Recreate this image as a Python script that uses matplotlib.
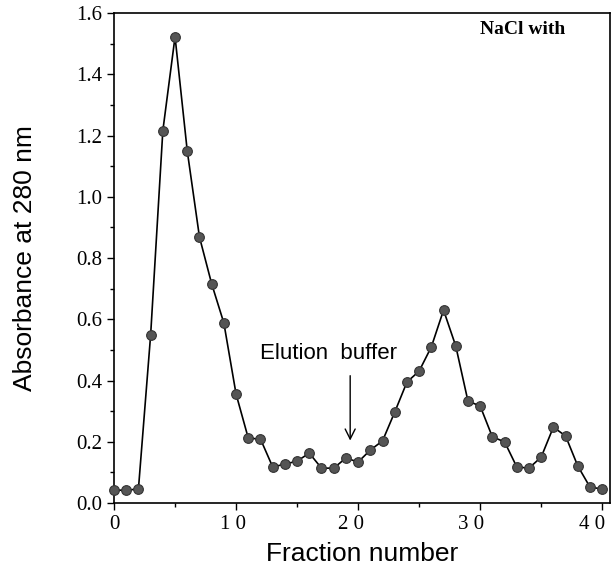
import matplotlib
matplotlib.use("Agg")
import matplotlib.pyplot as plt
import matplotlib.transforms as mtransforms
from matplotlib.ticker import MultipleLocator, FixedLocator, FixedFormatter

# fracciones y absorbancia
fraccion = list(range(0, 41))
absorbancia = [0.042, 0.042, 0.046, 0.549, 1.216, 1.523, 1.150, 0.869, 0.716, 0.588,
               0.356, 0.212, 0.209, 0.118, 0.127, 0.137, 0.163, 0.114, 0.114, 0.147,
               0.134, 0.173, 0.203, 0.297, 0.395, 0.431, 0.510, 0.630, 0.513, 0.333,
               0.317, 0.216, 0.200, 0.118, 0.114, 0.150, 0.248, 0.219, 0.121, 0.052,
               0.046]

xticks = [0, 10, 20, 30, 40]
xtick_labels = ["0", "1 0", "2 0", "3 0", "4 0"]
yticks = [0.0, 0.2, 0.4, 0.6, 0.8, 1.0, 1.2, 1.4, 1.6]

fig = plt.figure(figsize=(6.15, 5.71), dpi=100)
ax = fig.add_axes([0.1854, 0.119, 0.8057, 0.858])

ax.plot(fraccion, absorbancia, color="black", lw=1.2, marker="o", ms=7,
        mfc="#555555", mec="#333333", mew=0.8, clip_on=False, zorder=3)

ax.set_xlim(0, 40.6)
ax.set_ylim(0, 1.6)

ax.xaxis.set_major_locator(FixedLocator(xticks))
ax.xaxis.set_major_formatter(FixedFormatter(xtick_labels))
ax.xaxis.set_minor_locator(MultipleLocator(5))
ax.set_yticks(yticks)
ax.set_yticklabels([f"{v:.1f}" for v in yticks])
ax.yaxis.set_minor_locator(MultipleLocator(0.1))

ax.tick_params(which="both", direction="out", width=1.0, labelsize=15)
ax.tick_params(which="major", length=5)
ax.tick_params(which="minor", length=3)
for lab in ax.get_xticklabels() + ax.get_yticklabels():
    lab.set_family("Liberation Serif")

# las etiquetas del eje x en la figura original quedan un poco a la izquierda
desplazamientos = [0, -3, -7, -9, -10]
for lab, dx in zip(ax.get_xticklabels(), desplazamientos):
    lab.set_transform(lab.get_transform() + mtransforms.ScaledTranslation(dx / 100, 0, fig.dpi_scale_trans))

for s in ax.spines.values():
    s.set_linewidth(1.2)

ax.set_xlabel("Fraction number", family="Liberation Sans", fontsize=19, labelpad=6)
ax.set_ylabel("Absorbance at 280 nm", family="Liberation Sans", fontsize=19, labelpad=28)

ax.text(33.5, 1.545, "NaCl with", family="Liberation Serif", fontweight="bold",
        fontsize=14, ha="center", va="center")
ax.text(17.6, 0.49, "Elution  buffer", family="Liberation Sans", fontsize=16,
        ha="center", va="center")
ax.annotate("", xy=(19.35, 0.195), xytext=(19.35, 0.425),
            arrowprops=dict(arrowstyle="->", color="black", lw=1.0, mutation_scale=18))

fig.savefig("out.png", dpi=100)
